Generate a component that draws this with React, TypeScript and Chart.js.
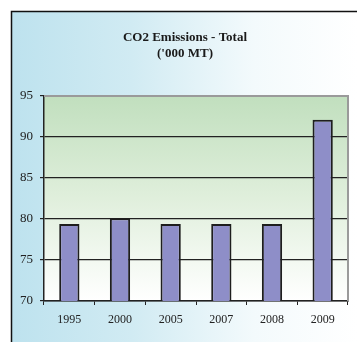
import React, { useEffect, useRef } from "react";
import { Chart, registerables } from "chart.js";

Chart.register(...registerables);

const categories = ["1995", "2000", "2005", "2007", "2008", "2009"];
const emissions = [79.4, 80.1, 79.4, 79.4, 79.4, 92.1];
const titleLines = ["CO2 Emissions - Total", "('000 MT)"];
const yMin = 70;
const yMax = 95;
const yStep = 5;

const bgPlugin = {
  id: "bgPlugin",
  beforeDraw(chart: any) {
    const { ctx, width, height, chartArea } = chart;
    ctx.save();
    ctx.fillStyle = "#ffffff";
    ctx.fillRect(0, 0, width, height);
    const g = ctx.createLinearGradient(11, 0, width, 0);
    g.addColorStop(0, "#bde2ee");
    g.addColorStop(0.35, "#d1ebf3");
    g.addColorStop(0.7, "#f3fafc");
    g.addColorStop(1, "#ffffff");
    ctx.fillStyle = g;
    ctx.fillRect(11, 11, width - 11, height - 11);
    ctx.strokeStyle = "#111111";
    ctx.lineWidth = 1.5;
    ctx.beginPath();
    ctx.moveTo(11.5, height);
    ctx.lineTo(11.5, 11.5);
    ctx.lineTo(width, 11.5);
    ctx.stroke();
    const pg = ctx.createLinearGradient(0, chartArea.top, 0, chartArea.bottom);
    pg.addColorStop(0, "#c1dfbe");
    pg.addColorStop(0.5, "#e0efdc");
    pg.addColorStop(1, "#ffffff");
    ctx.fillStyle = pg;
    ctx.fillRect(chartArea.left, chartArea.top, chartArea.right - chartArea.left, chartArea.bottom - chartArea.top);
    ctx.fillStyle = "#1a1a1a";
    ctx.font = "bold 13px 'Liberation Serif', 'Times New Roman', serif";
    ctx.textAlign = "center";
    ctx.textBaseline = "middle";
    ctx.fillText(titleLines[0], 185, 38);
    ctx.fillText(titleLines[1], 185, 54);
    ctx.restore();
  },
  afterDatasetsDraw(chart: any) {
    const { ctx, chartArea } = chart;
    ctx.save();
    ctx.strokeStyle = "#9a9a9a";
    ctx.lineWidth = 2;
    ctx.beginPath();
    ctx.moveTo(chartArea.left, chartArea.top);
    ctx.lineTo(chartArea.right, chartArea.top);
    ctx.lineTo(chartArea.right, chartArea.bottom);
    ctx.stroke();
    ctx.restore();
  },
};

export default function App() {
  const ref = useRef<HTMLCanvasElement | null>(null);
  useEffect(() => {
    if (!ref.current) return;
    const chart = new Chart(ref.current, {
      type: "bar",
      data: {
        labels: categories,
        datasets: [
          {
            data: emissions,
            backgroundColor: "#8e8ec8",
            borderColor: "#1e1e1e",
            borderWidth: 2,
            categoryPercentage: 1,
            barPercentage: 0.4,
          },
        ],
      },
      options: {
        responsive: false,
        animation: false,
        devicePixelRatio: 1,
        layout: { padding: { top: 96, right: 9, bottom: 11, left: 0 } },
        plugins: {
          legend: { display: false },
          title: { display: false },
          tooltip: { enabled: false },
        },
        scales: {
          x: {
            afterFit: (s: any) => {
              s.height = 30;
            },
            grid: {
              offset: true,
              drawOnChartArea: false,
              drawTicks: true,
              tickLength: 4,
              tickColor: "#222222",
            },
            border: { display: true, color: "#222222", width: 1.5 },
            ticks: {
              color: "#222222",
              padding: 8,
              font: { family: "'Liberation Serif', 'Times New Roman', serif", size: 12 },
            },
          },
          y: {
            min: yMin,
            max: yMax,
            afterFit: (s: any) => {
              s.width = 44;
            },
            grid: {
              color: (c: any) => (c.tick && c.tick.value === yMax ? "#9a9a9a" : "#222222"),
              lineWidth: 1.2,
              drawTicks: true,
              tickLength: 4,
              tickColor: "#222222",
            },
            border: { display: true, color: "#222222", width: 1.5 },
            ticks: {
              stepSize: yStep,
              color: "#222222",
              padding: 7,
              font: { family: "'Liberation Serif', 'Times New Roman', serif", size: 13 },
            },
          },
        },
      },
      plugins: [bgPlugin],
    });
    return () => chart.destroy();
  }, []);
  return (
    <div style={{ position: "fixed", left: 0, top: 0, width: 357, height: 342 }}>
      <canvas ref={ref} width={357} height={342} style={{ width: 357, height: 342, display: "block" }} />
    </div>
  );
}
